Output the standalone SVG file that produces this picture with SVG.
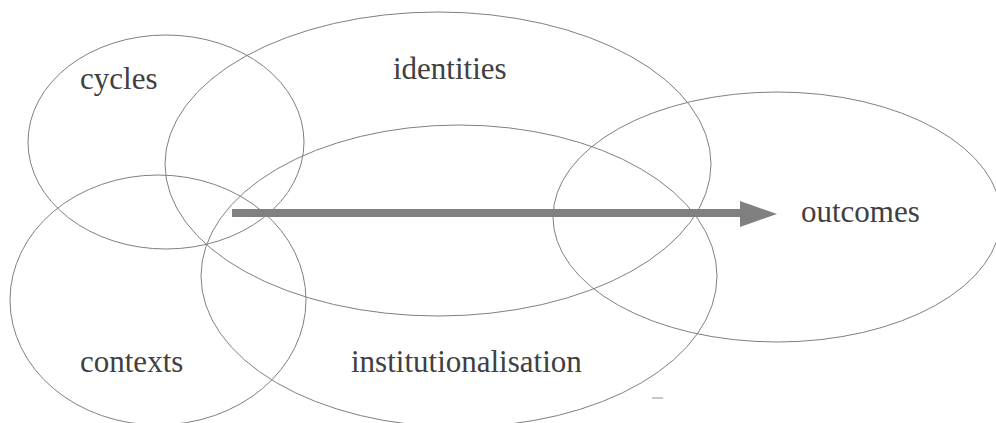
<svg xmlns="http://www.w3.org/2000/svg" width="996" height="423" viewBox="0 0 996 423">
<style>
.e{fill:none;stroke:#808080;stroke-width:1}
.t{font-family:"Liberation Serif","Times New Roman",serif;font-size:31px;fill:#404040}
</style>
<rect width="996" height="423" fill="#fff"/>
<g id="cycles"><ellipse class="e" cx="166" cy="142" rx="138" ry="107"/><text class="t" x="80" y="89">cycles</text></g>
<g id="identities"><ellipse class="e" cx="438" cy="164" rx="273" ry="152"/><text class="t" x="393" y="79">identities</text></g>
<g id="contexts"><ellipse class="e" cx="158" cy="300" rx="148" ry="125"/><text class="t" x="80" y="372">contexts</text></g>
<g id="institutionalisation"><ellipse class="e" cx="459" cy="276" rx="258" ry="151"/><text class="t" x="351" y="372">institutionalisation</text></g>
<g id="outcomes"><ellipse class="e" cx="777" cy="217" rx="224" ry="125"/><text class="t" x="801" y="222">outcomes</text></g>
<g id="connectors">
<line x1="232" y1="213" x2="741" y2="213" stroke="#808080" stroke-width="8"/>
<polygon points="740,201 777,214 740,227" fill="#808080"/>
<line x1="652" y1="398" x2="663" y2="398" stroke="#909090" stroke-width="1"/>
</g>
</svg>
